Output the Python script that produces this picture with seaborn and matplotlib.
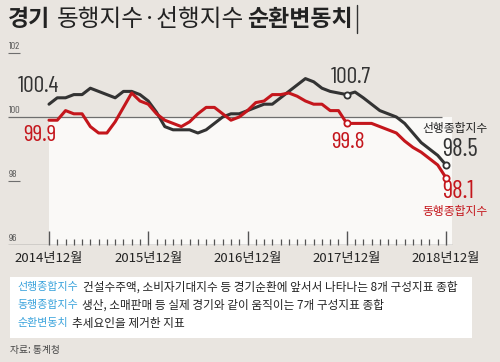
import pandas as pd
import matplotlib.pyplot as plt
import seaborn as sns
from matplotlib.patches import Rectangle
from matplotlib.lines import Line2D

# =============================================================================
# DATA (2014.12 ~ 2018.12, monthly)
# =============================================================================
months = list(range(49))
leading = [100.4, 100.6, 100.6, 100.7, 100.7, 100.9, 100.8, 100.7, 100.6, 100.8, 100.8, 100.7, 100.5,
           100.15, 99.7, 99.6, 99.6, 99.6, 99.5, 99.6, 99.8, 100.0, 100.1, 100.1, 100.2,
           100.3, 100.4, 100.4, 100.6, 100.8, 101.0, 101.2, 101.1, 100.9, 100.8, 100.75, 100.7,
           100.78, 100.6, 100.4, 100.2, 100.1, 100.0, 99.8, 99.5, 99.2, 99.0, 98.8, 98.5]
coincident = [99.9, 99.9, 100.2, 100.1, 100.1, 99.7, 99.5, 99.5, 99.85, 100.3, 100.75, 100.5, 100.4,
              100.1, 99.9, 99.8, 99.7, 99.85, 100.1, 100.3, 100.3, 100.1, 99.9, 100.0, 100.2,
              100.45, 100.5, 100.7, 100.7, 100.75, 100.65, 100.5, 100.4, 100.4, 100.2, 100.2, 99.8,
              99.8, 99.8, 99.8, 99.7, 99.6, 99.5, 99.25, 99.05, 98.9, 98.7, 98.5, 98.1]
tick_pos = [0, 12, 24, 36, 48]
tick_labels = ['2014년12월', '2015년12월', '2016년12월', '2017년12월', '2018년12월']
y_labels = [102, 100, 98, 96]
marked = [36, 48]

BG = '#e9e5e0'
BLACK = '#333333'
RED = '#c4161c'
BLUE = '#3aa3dc'
KR = ['Noto Sans CJK KR', 'DejaVu Sans']
NUM = ['Barlow Condensed', 'Liberation Sans', 'DejaVu Sans']  # 좁은 숫자 글꼴
NUM_SIZE = 17

df = pd.DataFrame({
    'month': months * 2,
    'value': leading + coincident,
    'series': ['선행'] * len(months) + ['동행'] * len(months),
})

# =============================================================================
# FIGURE
# =============================================================================
sns.set_theme(style='white')
plt.rcParams['font.family'] = KR

fig = plt.figure(figsize=(5, 3.62), dpi=100)
fig.patch.set_facecolor(BG)

# axes: px 8..470 horizontally, px 40..245 vertically
ax = fig.add_axes([8 / 500, (362 - 245) / 362, 462 / 500, 205 / 362])
ax.set_facecolor('none')
px = 48 / 397
ax.set_xlim(-41 * px, 48 + 24 * px)
ax.set_ylim(96, 96 + 205 / 32)

ax.add_patch(Rectangle((0, 96), 48.7, 4, color='#faf9f7', zorder=0, lw=0))

sns.lineplot(data=df, x='month', y='value', hue='series',
             palette={'선행': BLACK, '동행': RED}, linewidth=2.2,
             legend=False, ax=ax, zorder=3)

for vals, col in [(leading, BLACK), (coincident, RED)]:
    ax.scatter([months[i] for i in marked], [vals[i] for i in marked], s=20,
               facecolor='white', edgecolor=col, linewidth=1.3, zorder=4)

# reference lines and axis labels
ax.hlines(100, -41 * px, 47.5, color='#6e6e6e', lw=0.9, zorder=1)
ax.hlines(96, -41 * px, 48.7, color='#6e6e6e', lw=1.0, zorder=1)
for v in (102, 98):
    ax.hlines(v, -41 * px, -29 * px, color='#6e6e6e', lw=0.8)
for v in y_labels:
    ax.text(-40 * px, v + 0.07, str(v), ha='left', va='bottom', fontsize=7.5,
            color='#555555', family=NUM)

for s in ax.spines.values():
    s.set_visible(False)
ax.set_xlabel('')
ax.set_ylabel('')
ax.set_yticks([])
ax.set_xticks(tick_pos, labels=tick_labels)
ax.set_xticks(months, minor=True)
ax.tick_params(axis='x', which='both', bottom=True, direction='in', color='#555555')
ax.tick_params(axis='x', which='major', length=10, width=1,
               labelsize=9.5, labelcolor='#222222', pad=5)
ax.tick_params(axis='x', which='minor', length=4, width=0.9)

# value annotations
def note(i, vals, txt, dx, dy, col, size=NUM_SIZE, family=NUM):
    ax.annotate(txt, (months[i], vals[i]), xytext=(dx, dy), textcoords='offset points',
                ha='center', va='center', fontsize=size, color=col, family=family)

note(0, leading, '100.4', -8, 13, BLACK)
note(0, coincident, '99.9', -6.5, -11, RED)
note(36, leading, '100.7', 3, 12, BLACK)
note(36, coincident, '99.8', 1, -14, RED)
note(48, leading, '98.5', 10, 11, BLACK, size=NUM_SIZE + 1)
note(48, coincident, '98.1', 9, -10, RED, size=NUM_SIZE + 1)
note(48, leading, '선행종합지수', 6.5, 26, '#222222', size=8.5, family=KR)
note(48, coincident, '동행종합지수', 6.5, -24, RED, size=8.5, family=KR)

# title
def ftext(x, y, s, **kw):
    fig.text(x / 500, 1 - y / 362, s, **kw)

ftext(8, 20, '경기', fontsize=16.5, fontweight='bold', color='#222222', va='center')
ftext(57, 20, '동행지수·선행지수', fontsize=17, color='#222222', va='center')
ftext(247, 20, '순환변동치', fontsize=16.5, fontweight='bold', color='#222222', va='center')
fig.add_artist(Line2D([357 / 500, 357 / 500], [1 - 5 / 362, 1 - 33 / 362],
                      color='#333333', lw=1, transform=fig.transFigure))

# legend box
fig.add_artist(Rectangle((10 / 500, 1 - 338 / 362), 462 / 500, 61 / 362,
                         transform=fig.transFigure, facecolor='white', lw=0))
rows = [
    (287, '선행종합지수', 83, '건설수주액, 소비자기대지수 등 경기순환에 앞서서 나타나는 8개 구성지표 종합'),
    (305, '동행종합지수', 82, '생산, 소매판매 등 실제 경기와 같이 움직이는 7개 구성지표 종합'),
    (323, '순환변동치', 72, '추세요인을 제거한 지표'),
]
for y, key, x2, desc in rows:
    ftext(17, y, key, fontsize=7.9, color=BLUE, va='center')
    ftext(x2, y, desc, fontsize=8.4, color='#222222', va='center')

ftext(10, 350, '자료: 통계청', fontsize=7, color='#444444', va='center')

fig.savefig('out.png', dpi=100, facecolor=BG)
plt.close()
